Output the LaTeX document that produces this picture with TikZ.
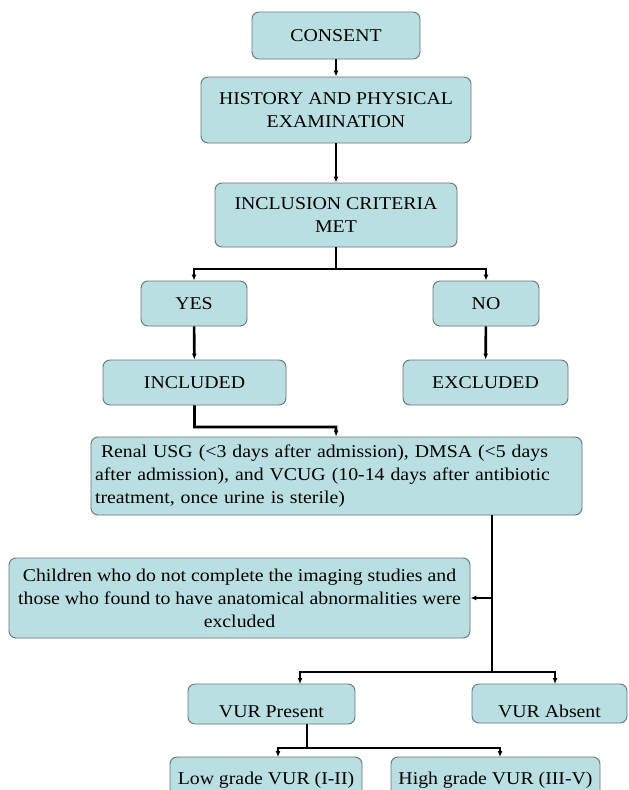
\documentclass[tikz,border=0pt]{standalone}
\usepackage{fontspec}
\setmainfont[FakeStretch=1.1]{Liberation Serif}
\usetikzlibrary{arrows.meta}
\definecolor{boxfill}{HTML}{BADFE2}
\definecolor{boxline}{HTML}{6A7475}
\tikzset{
	box/.style={draw=boxline, fill=boxfill, line width=0.9pt, rounded corners=7pt, inner sep=0pt, align=center, font=\fontsize{18}{23}\selectfont},
	lowtext/.style={text height=27pt, text depth=0pt},
	arr/.style={line width=2.6pt, -{Latex[length=6pt,width=5pt]}},
	wire/.style={line width=2.6pt}
}

\begin{document}
\begin{tikzpicture}[x=1pt, y=-1pt]
			%%%%% START %%%%%
			\useasboundingbox (0, 0) rectangle (629, 790);
			\fill[white] (0, 0) rectangle (629, 790);
			\clip (0, 0) rectangle (629, 790);
			
			\node[box, minimum width=168, minimum height=47] (consent) at (336, 35.5) {CONSENT};
			\node[box, minimum width=270, minimum height=66] (history) at (336, 110) {HISTORY AND PHYSICAL\\EXAMINATION};
			\node[box, minimum width=242, minimum height=64] (criteria) at (336, 215) {INCLUSION CRITERIA\\MET};
			
			\node[box, minimum width=106, minimum height=45] (yes) at (194, 303.5) {YES};
			\node[box, minimum width=106, minimum height=45] (no) at (486, 303.5) {NO};
			\node[box, minimum width=183, minimum height=45] (included) at (194.5, 382.5) {INCLUDED};
			\node[box, minimum width=165, minimum height=45] (excluded) at (485.5, 382.5) {EXCLUDED};
			
			\node[box, text width=483, inner xsep=4pt, minimum height=78, align=left] (imaging) at (336.5, 476) {\ Renal USG (<3 days after admission), DMSA (<5 days\\after admission), and VCUG (10-14 days after antibiotic\\treatment, once urine is sterile)};
			\node[box, minimum width=461, minimum height=80] (dropped) at (239.5, 598) {Children who do not complete the imaging studies and\\those who found to have anatomical abnormalities were\\excluded};
			
			\node[box, lowtext, minimum width=167, minimum height=40] (present) at (271.5, 704) {VUR Present};
			\node[box, lowtext, minimum width=155, minimum height=39] (absent) at (549.5, 703.5) {VUR Absent};
			\node[box, minimum width=192, minimum height=46] (low) at (266, 780) {Low grade VUR (I-II)};
			\node[box, minimum width=209, minimum height=46] (high) at (495.5, 780) {High grade VUR (III-V)};
			
			% split points
			\coordinate (split1) at (336, 269);
			\coordinate (bend1) at (336, 427);
			\coordinate (split2) at (492, 672);
			\coordinate (pdrop) at (300, 684);
			\coordinate (adrop) at (555, 684);
			\coordinate (split3) at (307, 748);
			\coordinate (ldrop) at (278, 757);
			\coordinate (hdrop) at (500, 757);
			
			\draw[arr] (consent) -- (history);
			\draw[arr] (history) -- (criteria);
			\draw[wire] (criteria) -- (split1);
			\draw[arr] (split1) -| (yes);
			\draw[arr] (split1) -| (no);
			\draw[arr] (yes) -- (included);
			\draw[arr] (no) -- (excluded);
			\draw[arr] (included) |- (bend1) -- (imaging);
			
			\draw[wire] (imaging.south -| split2) -- (split2);
			\draw[arr] (dropped.east -| split2) -- (dropped.east);
			\draw[arr] (split2) -| (pdrop);
			\draw[arr] (split2) -| (adrop);
			\draw[wire] (present.south -| split3) -- (split3);
			\draw[arr] (split3) -| (ldrop);
			\draw[arr] (split3) -| (hdrop);
			%%%%% END %%%%%
		\end{tikzpicture}
\end{document}
